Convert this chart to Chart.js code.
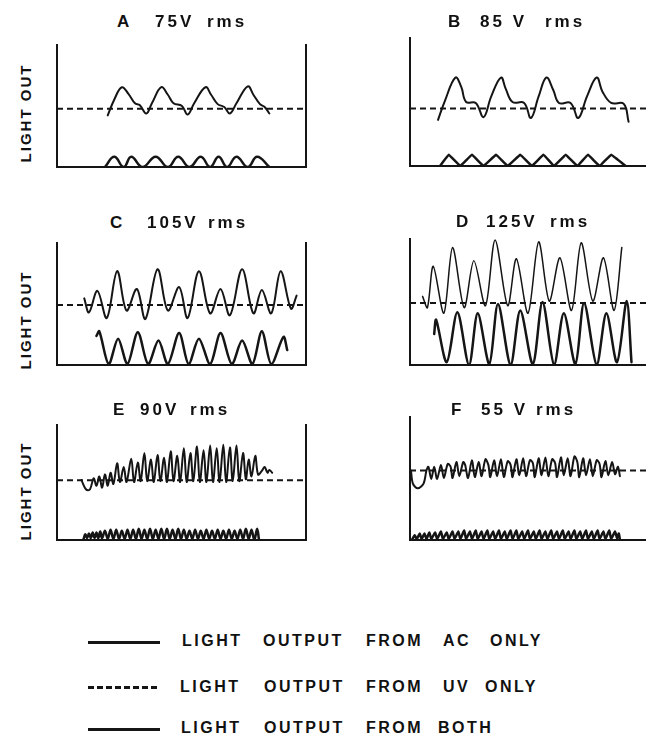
<!DOCTYPE html>
<html>
<head>
<meta charset="utf-8">
<script src="https://cdn.jsdelivr.net/npm/chart.js@4.4.1/dist/chart.umd.min.js"></script>
<style>
  html, body { margin: 0; padding: 0; background: #fff; }
  body { width: 646px; height: 738px; position: relative; overflow: hidden; }
  .txt { position: absolute; font-family: 'Liberation Sans', Arial, sans-serif; font-weight: bold; color: #111; white-space: pre; line-height: 20px; height: 20px; }
  .ttl { font-size: 17px; letter-spacing: 3px; }
  .leg { font-size: 16px; letter-spacing: 2.5px; }
  .side { font-size: 15px; letter-spacing: 2px; width: 120px; text-align: center; transform: rotate(-90deg); }
  .key { position: absolute; left: 88px; width: 72px; height: 2.5px; }
</style>
</head>
<body>
<script>
// 패널별 데이터 (x: 시간, y: 광출력, 임의 단위)
const aUv = [[0, 62], [265, 62]];
const aBoth = [[54,55],[61,72],[69,85],[76,78],[83,68],[88,66],[95,57],[101,68],[111,85],[118,77],[124,68],[133,65],[139,56],[146,68],[158,85],[164,77],[171,67],[178,64],[184,57],[191,68],[203,86],[209,77],[216,67],[221,64],[226,57]];
const aAc = [[51,0],[61,11],[71,0],[79,11],[91,0],[105,11],[118,0],[129,11],[141,0],[153,11],[163,0],[172,11],[181,0],[191,11],[203,0],[213,11],[226,0]];

const bUv = [[0, 61], [244, 61]];
const bBoth = [[29,49],[36,69],[47,94],[53,84],[58,68],[68,67],[76,52],[84,74],[94,94],[99,82],[106,68],[118,67],[125,51],[133,74],[141,94],[148,81],[154,67],[166,67],[174,51],[183,74],[193,94],[199,79],[208,67],[221,66],[226,47]];
const bAc = [[31,0],[40,12],[52,0],[64,12],[76,0],[89,12],[101,0],[114,12],[126,0],[138,12],[149,0],[161,12],[173,0],[184,12],[196,0],[208,12],[223,0]];

const cUv = [[0, 64], [265, 64]];
const cBoth = [[29,71],[34,56],[43,79],[53,50],[64,100],[74,58],[85,81],[94,49],[107,102],[118,58],[130,83],[139,50],[151,100],[163,55],[174,81],[184,53],[197,102],[209,55],[218,80],[228,55],[238,100],[249,60],[255,74]];
const cAc = [[42,31],[45,36],[55,1],[65,28],[75,1],[86,35],[97,1],[108,26],[118,1],[130,34],[140,1],[151,28],[163,1],[174,34],[186,1],[197,26],[208,1],[218,36],[228,1],[241,30],[245,16]];

const dUv = [[0, 66], [244, 66]];
const dBoth = [[13,73],[18,61],[24,105],[35,55],[44,125],[56,61],[66,111],[78,63],[88,133],[101,63],[110,113],[122,55],[133,131],[144,68],[155,114],[167,58],[177,130],[189,68],[200,114],[211,58],[219,125]];
const dAc = [[25,33],[27,48],[38,3],[49,56],[61,0],[70,55],[82,1],[91,65],[104,0],[114,58],[127,1],[137,67],[149,0],[159,55],[171,1],[180,66],[193,0],[203,55],[214,3],[224,68],[229,3]];

const eUv = [[0, 64], [265, 64]];
const eBoth = [[26,64],[31,54],[35,54],[39,66],[42,58],[45,68],[48,56],[51,70],[54,58],[57,72],[60,60],[64,82],[67,62],[71,78],[74,62],[79,87],[82,62],[86,83],[89,63],[93,93],[96,63],[100,86],[103,62],[107,91],[110,63],[114,88],[117,62],[121,95],[124,63],[128,90],[131,62],[135,98],[138,62],[142,93],[145,63],[149,100],[152,62],[156,96],[159,62],[163,101],[166,62],[170,98],[173,62],[177,102],[180,62],[184,99],[187,63],[191,101],[194,63],[198,93],[201,65],[204,86],[207,68],[211,90],[214,70],[218,74],[221,78],[224,72],[226,75],[229,72]];
const eAc = [[28,0],[30,6],[32,2],[34,7],[36,2],[38,8],[40,2],[42,8],[44,2],[46,9],[48,2],[51,10],[54,1],[57,11],[60,1],[63,11],[66,1],[69,10],[72,1],[75,11],[78,1],[81,11],[84,1],[87,12],[90,1],[93,11],[96,1],[99,12],[102,1],[105,11],[108,1],[111,12],[114,1],[117,12],[120,1],[123,11],[126,1],[129,12],[132,1],[135,11],[138,1],[141,10],[144,1],[147,11],[150,1],[153,10],[156,1],[159,11],[162,1],[165,10],[168,1],[171,11],[174,1],[177,10],[180,1],[183,11],[186,1],[189,10],[192,1],[195,11],[198,1],[201,12],[204,1],[207,11],[210,0],[213,12],[215,0]];

const fUv = [[0, 74], [244, 74]];
const fBoth = [[1,74],[3,60],[8,55],[14,60],[17,74],[19,78],[22,65],[25,78],[28,65],[32,80],[35,66],[39,81],[42,78],[44,66],[48,83],[51,68],[55,83],[57,80],[60,66],[64,85],[67,67],[71,83],[74,68],[78,86],[81,80],[83,67],[87,85],[90,68],[94,86],[97,67],[101,84],[104,80],[106,67],[110,86],[113,69],[117,87],[120,68],[124,85],[127,82],[129,67],[133,87],[136,69],[140,88],[143,68],[147,86],[150,82],[152,67],[156,88],[159,69],[163,87],[166,68],[170,89],[173,83],[175,67],[179,87],[182,69],[186,86],[189,68],[193,85],[196,81],[198,67],[202,84],[205,69],[209,83],[212,70],[215,78],[217,68]];
const fAc = [[2,0],[5,5],[7,1],[10,7],[12,1],[15,7],[17,1],[20,8],[22,1],[26,8],[28,1],[32,9],[34,1],[38,8],[40,1],[44,9],[46,1],[50,9],[52,1],[56,10],[58,1],[62,9],[64,1],[68,10],[70,1],[74,9],[76,1],[80,10],[82,1],[86,9],[88,1],[92,10],[94,1],[98,9],[100,1],[104,10],[106,1],[110,10],[112,1],[116,9],[118,1],[122,10],[124,1],[128,9],[130,1],[134,10],[136,1],[140,9],[142,1],[146,10],[148,1],[152,9],[154,1],[158,10],[160,1],[164,9],[166,1],[170,10],[172,1],[176,9],[178,1],[182,10],[184,1],[188,9],[190,1],[194,10],[196,1],[200,9],[202,1],[206,10],[208,1],[212,9],[214,2],[216,7],[217,0]];

const INK = '#151515';
const PAD = 10;

// 패널 위치 (원본 그림 픽셀 기준)
const panels = [
    { left: 49,  top: 45,  w: 265, h: 130, xMax: 265, yMax: 130, right: true,  uv: aUv, both: aBoth, ac: aAc, bt: 0.4, at: 0.45, bw: 2 },
    { left: 402, top: 38,  w: 244, h: 136, xMax: 244, yMax: 136, right: false, uv: bUv, both: bBoth, ac: bAc, bt: 0.4, at: 0.05, bw: 2 },
    { left: 49,  top: 243, w: 265, h: 130, xMax: 265, yMax: 130, right: true,  uv: cUv, both: cBoth, ac: cAc, bt: 0.35, at: 0.3, bw: 2 },
    { left: 402, top: 239, w: 244, h: 134, xMax: 244, yMax: 134, right: false, uv: dUv, both: dBoth, ac: dAc, bt: 0.3, at: 0.3, bw: 1.5 },
    { left: 49,  top: 425, w: 265, h: 123, xMax: 265, yMax: 123, right: true,  uv: eUv, both: eBoth, ac: eAc, bt: 0.35, at: 0.35, bw: 2 },
    { left: 402, top: 417, w: 244, h: 131, xMax: 244, yMax: 131, right: false, uv: fUv, both: fBoth, ac: fAc, bt: 0.3, at: 0.2, bw: 2 },
];

function hiddenAxis(max, pos) {
    return {
        type: 'linear',
        position: pos,
        min: 0,
        max: max,
        grid: { display: false },
        ticks: { display: false },
        border: { display: true, color: INK, width: 2 }
    };
}

function makePanel(p) {
    const box = document.createElement('div');
    const rpad = p.right ? PAD : 0;
    box.style.cssText = `position:absolute;left:${p.left - PAD}px;top:${p.top - PAD}px;width:${p.w + PAD + rpad}px;height:${p.h + 2 * PAD}px`;
    const cv = document.createElement('canvas');
    box.appendChild(cv);
    document.body.appendChild(box);

    const toXY = arr => arr.map(([x, y]) => ({ x, y }));
    const line = {
        showLine: true,
        borderColor: INK,
        pointRadius: 0,
        borderCapStyle: 'round',
        borderJoinStyle: 'round',
    };

    const scales = {
        x: hiddenAxis(p.xMax, 'bottom'),
        y: hiddenAxis(p.yMax, 'left'),
    };
    if (p.right) scales.yR = hiddenAxis(p.yMax, 'right');

    new Chart(cv, {
        type: 'scatter',
        data: {
            datasets: [
                { ...line, label: 'UV', data: toXY(p.uv), borderWidth: 2, borderDash: [6, 4], borderCapStyle: 'butt' },
                { ...line, label: 'BOTH', data: toXY(p.both), borderWidth: p.bw, tension: p.bt },
                { ...line, label: 'AC', data: toXY(p.ac), borderWidth: 2.5, tension: p.at },
            ]
        },
        options: {
            responsive: true,
            maintainAspectRatio: false,
            animation: false,
            layout: { padding: { left: PAD, top: PAD, bottom: PAD, right: rpad } },
            plugins: { legend: { display: false }, tooltip: { enabled: false } },
            scales: scales
        }
    });
}

panels.forEach(makePanel);

// 글자 (왼쪽 x, 중앙 y)
function label(text, x, y, cls) {
    const el = document.createElement('div');
    el.className = 'txt ' + cls;
    el.textContent = text;
    el.style.left = x + 'px';
    el.style.top = (y - 10) + 'px';
    document.body.appendChild(el);
    return el;
}

const titles = [
    ['A', 117, 22], ['75V', 155, 22], ['rms', 207, 22],
    ['B', 448, 22], ['85 V', 480, 22], ['rms', 545, 22],
    ['C', 110, 223], ['105V', 147, 223], ['rms', 208, 223],
    ['D', 456, 222], ['125V', 486, 222], ['rms', 550, 222],
    ['E', 113, 410], ['90V', 140, 410], ['rms', 190, 410],
    ['F', 451, 410], ['55 V', 481, 410], ['rms', 536, 410],
];
titles.forEach(([t, x, y]) => label(t, x, y, 'ttl'));

// 세로 축 이름
[113, 320, 491].forEach(cy => label('LIGHT OUT', 26 - 60, cy, 'side'));

// 범례
const legendRows = [
    { y: 641, words: [['LIGHT', 182], ['OUTPUT', 263], ['FROM', 366], ['AC', 443], ['ONLY', 490]] },
    { y: 687, words: [['LIGHT', 180], ['OUTPUT', 264], ['FROM', 366], ['UV', 443], ['ONLY', 485]] },
    { y: 728, words: [['LIGHT', 181], ['OUTPUT', 264], ['FROM', 366], ['BOTH', 438]] },
];
legendRows.forEach(r => r.words.forEach(([w, x]) => label(w, x, r.y, 'leg')));

const keys = [
    { y: 642, dash: false },
    { y: 687, dash: true },
    { y: 729, dash: false },
];
keys.forEach(k => {
    const el = document.createElement('div');
    el.className = 'key';
    el.style.top = (k.y - 1) + 'px';
    el.style.background = k.dash
        ? `repeating-linear-gradient(90deg, ${INK} 0 6px, transparent 6px 9px)`
        : INK;
    document.body.appendChild(el);
});
</script>
</body>
</html>
